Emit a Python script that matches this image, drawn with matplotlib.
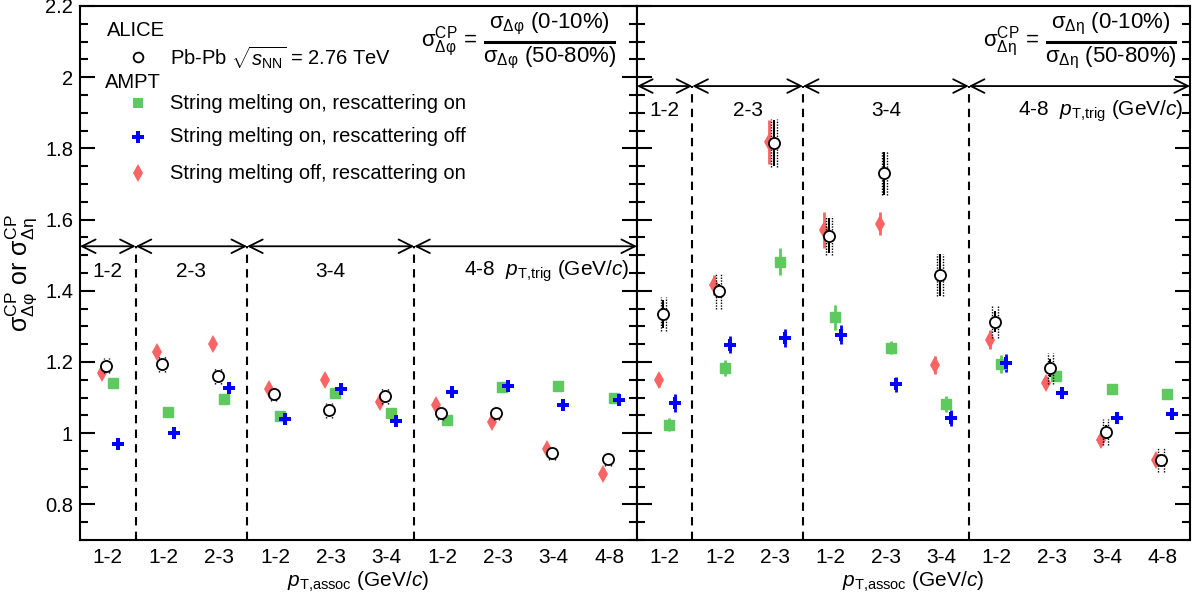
import numpy as np
import matplotlib.pyplot as plt
from matplotlib.ticker import MultipleLocator, FormatStrFormatter

plt.rcParams['font.family'] = ['Liberation Sans', 'DejaVu Sans']
plt.rcParams['mathtext.fontset'] = 'custom'
plt.rcParams['mathtext.rm'] = 'Liberation Sans'
plt.rcParams['mathtext.it'] = 'Liberation Sans:italic'
plt.rcParams['mathtext.bf'] = 'Liberation Sans:bold'
plt.rcParams['mathtext.sf'] = 'Liberation Sans'

# bins: pT,assoc labels and pT,trig groups
assoc_labels = ['1-2', '1-2', '2-3', '1-2', '2-3', '3-4', '1-2', '2-3', '3-4', '4-8']
trig_labels = ['1-2', '2-3', '3-4', '4-8']
trig_edges = [-0.5, 0.5, 2.5, 5.5, 9.5]

# sigma_CP in delta phi (left panel)
dphi_alice = [1.190, 1.194, 1.160, 1.110, 1.064, 1.104, 1.056, 1.057, 0.944, 0.928]
dphi_alice_stat = [0.010, 0.010, 0.010, 0.008, 0.008, 0.010, 0.008, 0.008, 0.008, 0.008]
dphi_alice_sys = [0.022, 0.022, 0.022, 0.020, 0.020, 0.022, 0.020, 0.020, 0.020, 0.020]
dphi_sm_on_res_on = [1.142, 1.060, 1.096, 1.049, 1.112, 1.056, 1.036, 1.131, 1.133, 1.098]
dphi_sm_on_res_off = [0.970, 1.000, 1.127, 1.040, 1.124, 1.034, 1.117, 1.133, 1.080, 1.093]
dphi_sm_off_res_on = [1.170, 1.229, 1.250, 1.124, 1.150, 1.088, 1.080, 1.031, 0.955, 0.885]
dphi_model_err = [0.006, 0.006, 0.006, 0.006, 0.006, 0.008, 0.006, 0.006, 0.006, 0.006]

# sigma_CP in delta eta (right panel)
deta_alice = [1.335, 1.400, 1.815, 1.555, 1.730, 1.444, 1.313, 1.182, 1.004, 0.924]
deta_alice_stat = [0.040, 0.020, 0.065, 0.050, 0.060, 0.058, 0.030, 0.025, 0.020, 0.015]
deta_alice_sys = [0.048, 0.050, 0.068, 0.055, 0.062, 0.060, 0.045, 0.043, 0.037, 0.034]
deta_sm_on_res_on = [1.024, 1.183, 1.481, 1.325, 1.240, 1.082, 1.195, 1.160, 1.123, 1.109]
deta_sm_on_res_on_err = [0.018, 0.022, 0.038, 0.036, 0.018, 0.022, 0.026, 0.014, 0.010, 0.012]
deta_sm_on_res_off = [1.085, 1.249, 1.268, 1.277, 1.137, 1.043, 1.198, 1.113, 1.043, 1.054]
deta_sm_on_res_off_err = [0.025, 0.025, 0.025, 0.026, 0.020, 0.023, 0.025, 0.014, 0.013, 0.013]
deta_sm_off_res_on = [1.148, 1.416, 1.817, 1.570, 1.588, 1.191, 1.263, 1.140, 0.980, 0.926]
deta_sm_off_res_on_err = [0.019, 0.028, 0.062, 0.050, 0.032, 0.026, 0.026, 0.014, 0.014, 0.014]

c_green = '#5ec95e'
c_blue = '#0000ff'
c_red = '#fa6464'

x = np.arange(len(assoc_labels))


def draw_panel(ax, alice, stat, sys, green, gerr, blue, berr, red, rerr, arrow_y, label_y):
    # ALICE data: dotted systematic box sides + stat bars
    dx = 0.05
    xa = x - 0.025
    ax.vlines(xa - dx, np.array(alice) - sys, np.array(alice) + sys, colors='black',
              linestyles=(0, (1, 1)), lw=1.0, zorder=4)
    ax.vlines(xa + dx, np.array(alice) - sys, np.array(alice) + sys, colors='black',
              linestyles=(0, (1, 1)), lw=1.0, zorder=4)
    ax.errorbar(x + 0.085, green, yerr=gerr, fmt='s', color=c_green, ms=6.5, elinewidth=2, capsize=0, zorder=3)
    ax.errorbar(x + 0.18, blue, yerr=berr, fmt='P', color=c_blue, ms=8, mew=0, elinewidth=2, capsize=0, zorder=3)
    ax.errorbar(x - 0.11, red, yerr=rerr, fmt='d', color=c_red, ms=9, mew=0, elinewidth=2, capsize=0, zorder=3)
    ax.errorbar(xa, alice, yerr=stat, fmt='o', mfc='white', mec='black', mew=1.3, ms=8,
                ecolor='black', elinewidth=1.5, capsize=0, zorder=5)

    # pT,trig group separators, arrows and labels
    ax.vlines(trig_edges[1:-1], 0.7, arrow_y, colors='black', linestyles=(0, (4, 3)), lw=1.5)
    for e0, e1 in zip(trig_edges[:-1], trig_edges[1:]):
        ax.annotate('', xy=(e1, arrow_y), xytext=(e0, arrow_y), annotation_clip=False,
                    arrowprops=dict(arrowstyle='<->,head_length=0.7,head_width=0.35', lw=1.3,
                                    shrinkA=0, shrinkB=0, mutation_scale=14))
    for i, lab in enumerate(trig_labels[:-1]):
        ax.text((trig_edges[i] + trig_edges[i + 1]) / 2 if i > 0 else 0, label_y, lab,
                ha='center', va='center', fontsize=15)
    ax.text(6.39, label_y, trig_labels[-1] + r'  $p_{\mathrm{T{,}trig}}$ (GeV/$c$)',
            ha='left', va='center', fontsize=15)

    ax.set_xlim(-0.5, 9.5)
    ax.set_ylim(0.7, 2.2)
    ax.set_xticks(x)
    ax.set_xticklabels(assoc_labels, fontsize=15)
    ax.yaxis.set_major_locator(MultipleLocator(0.2))
    ax.yaxis.set_minor_locator(MultipleLocator(0.05))
    ax.yaxis.set_major_formatter(FormatStrFormatter('%g'))
    ax.tick_params(axis='x', length=0, pad=6)
    ax.tick_params(axis='y', which='major', direction='in', length=11, width=1.5, left=True, right=True,
                   labelsize=14.5, pad=5)
    ax.tick_params(axis='y', which='minor', direction='in', length=6, width=1.5, left=True, right=True)
    for s in ax.spines.values():
        s.set_linewidth(1.5)
    ax.set_xlabel(r'$p_{\mathrm{T{,}assoc}}$ (GeV/$c$)', fontsize=15, labelpad=2)


def draw_ratio(ax, var, x_right, y_c):
    # sigma_CP = sigma(0-10%) / sigma(50-80%)
    sub = r'$_{\mathrm{' + var + '}}$'
    x0 = x_right - 0.232
    ax.plot([x0, x_right], [y_c, y_c], transform=ax.transAxes, color='black', lw=2.2, clip_on=False)
    xm = (x0 + x_right) / 2
    ax.text(xm, y_c + 0.008, 'σ' + sub + ' (0-10%)', transform=ax.transAxes,
            ha='center', va='bottom', fontsize=16)
    ax.text(xm, y_c - 0.006, 'σ' + sub + ' (50-80%)', transform=ax.transAxes,
            ha='center', va='top', fontsize=16)
    ax.text(x0 - 0.014, y_c, r'σ$^{\mathrm{CP}}_{\mathrm{' + var + '}}$ =', transform=ax.transAxes,
            ha='right', va='center', fontsize=16)


fig = plt.figure(figsize=(11.99, 6.03), dpi=100)
axL = fig.add_axes([0.0667, 0.1045, 0.4646, 0.8856])
axR = fig.add_axes([0.5313, 0.1045, 0.4612, 0.8856], sharey=axL)

draw_panel(axL, dphi_alice, dphi_alice_stat, dphi_alice_sys,
           dphi_sm_on_res_on, dphi_model_err, dphi_sm_on_res_off, dphi_model_err,
           dphi_sm_off_res_on, dphi_model_err, 1.525, 1.455)
draw_panel(axR, deta_alice, deta_alice_stat, deta_alice_sys,
           deta_sm_on_res_on, deta_sm_on_res_on_err, deta_sm_on_res_off, deta_sm_on_res_off_err,
           deta_sm_off_res_on, deta_sm_off_res_on_err, 1.975, 1.905)
axR.tick_params(axis='y', labelleft=False)

draw_ratio(axL, 'Δφ', 0.959, 0.933)
draw_ratio(axR, 'Δη', 0.973, 0.933)

axL.set_ylabel(r'σ$^{\mathrm{CP}}_{\mathrm{Δφ}}$ or σ$^{\mathrm{CP}}_{\mathrm{Δη}}$', fontsize=18, labelpad=4)

# legend
lx_m, lx_t = 0.104, 0.162
axL.text(0.048, 0.955, 'ALICE', transform=axL.transAxes, ha='left', va='center', fontsize=14.5)
axL.plot([lx_m], [0.904], transform=axL.transAxes, marker='o', mfc='white', mec='black', mew=1.3, ms=7,
         clip_on=False)
axL.text(lx_t, 0.904, r'Pb-Pb $\sqrt{s_{\mathrm{NN}}}$ = 2.76 TeV', transform=axL.transAxes,
         ha='left', va='center', fontsize=14.5)
axL.text(0.045, 0.856, 'AMPT', transform=axL.transAxes, ha='left', va='center', fontsize=14.5)
entries = [('s', c_green, 6.5, 'String melting on, rescattering on', 0.818),
           ('P', c_blue, 8, 'String melting on, rescattering off', 0.755),
           ('d', c_red, 9, 'String melting off, rescattering on', 0.687)]
for m, c, ms, lab, yy in entries:
    axL.plot([lx_m], [yy], transform=axL.transAxes, marker=m, color=c, ms=ms, mew=0, clip_on=False)
    axL.text(lx_t, yy, lab, transform=axL.transAxes, ha='left', va='center', fontsize=14.5)

fig.savefig('out.png', dpi=100)
